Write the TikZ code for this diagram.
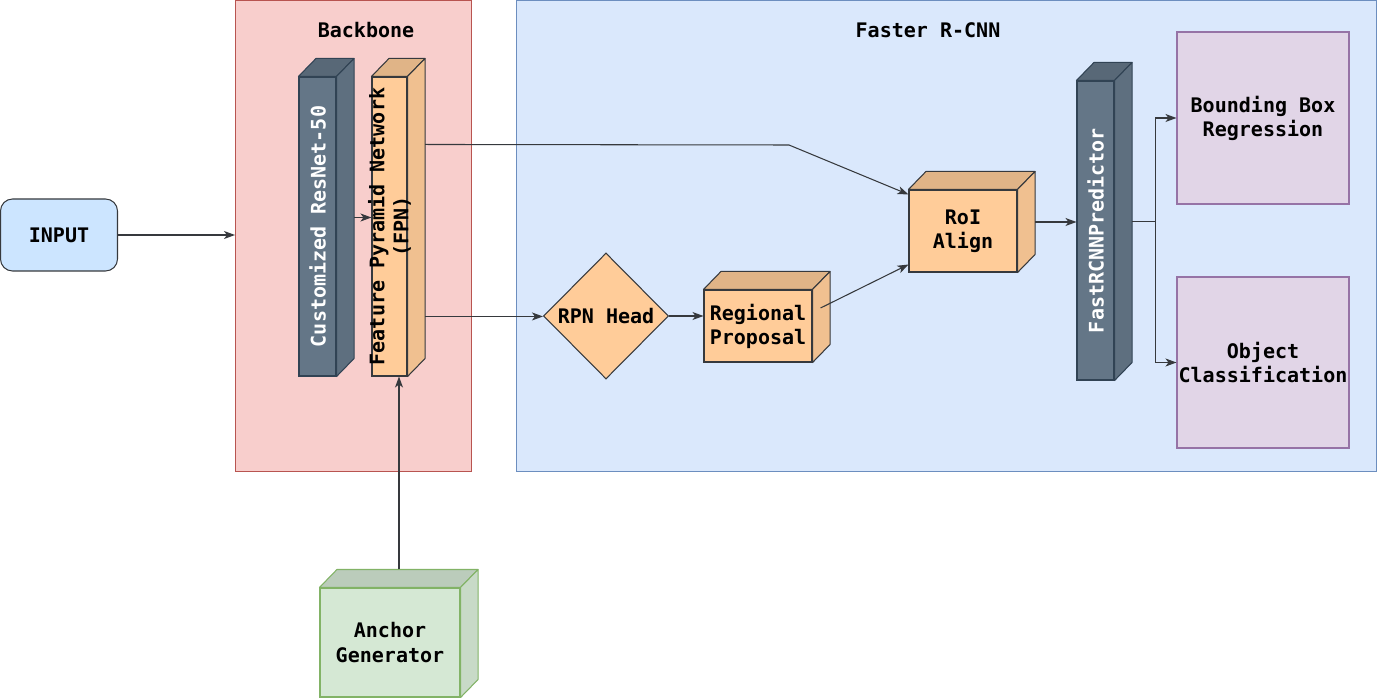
\documentclass[tikz,border=0pt]{standalone}
\usepackage{fontspec}
\setmonofont{DejaVu Sans Mono}
\usetikzlibrary{arrows.meta, shapes.geometric, calc}

\definecolor{backbonefill}{HTML}{F8CECC}
\definecolor{backbonedraw}{HTML}{B85450}
\definecolor{rcnnfill}{HTML}{DAE8FC}
\definecolor{rcnndraw}{HTML}{6C8EBF}
\definecolor{inputfill}{HTML}{CCE5FF}
\definecolor{darkline}{HTML}{36393D}
\definecolor{slatefill}{HTML}{647687}
\definecolor{slatedraw}{HTML}{314354}
\definecolor{orangefill}{HTML}{FFCC99}
\definecolor{greenfill}{HTML}{D5E8D4}
\definecolor{greendraw}{HTML}{82B366}
\definecolor{purplefill}{HTML}{E1D5E7}
\definecolor{purpledraw}{HTML}{9673A6}

\tikzset{
    my-text/.style={
        font=\fontsize{11.4}{13.7}\selectfont\ttfamily\bfseries, align=center
    },
    my-group/.style={
        rectangle, anchor=north west, line width=0.6pt, inner sep=0pt
    },
    my-cube/.style={
        rectangle, line width=0.6pt, inner sep=0pt, my-text
    },
    my-arrow/.style={
        draw=darkline, line width=0.6pt, -{Stealth[length=2.2mm, width=1.6mm, inset=0.6mm]}
    },
}

% back faces of a cube: node, fill colour, line colour
\newcommand{\cubefaces}[3]{
    \filldraw[fill=#2!88!black, draw=#3, line width=0.6pt, line join=round]
        (#1.north west) -- ($(#1.north west)+(.35,.36)$) -- ($(#1.north east)+(.35,.36)$) -- (#1.north east) -- cycle;
    \filldraw[fill=#2!94!black, draw=#3, line width=0.6pt, line join=round]
        (#1.north east) -- ($(#1.north east)+(.35,.36)$) -- ($(#1.south east)+(.35,.36)$) -- (#1.south east) -- cycle;
}

\begin{document}
\begin{tikzpicture}
        \useasboundingbox (0,0) rectangle (27.56,-13.98);

        % GROUPS ---------------------------------------------------------------------------------------
        \node[my-group, fill=backbonefill, draw=backbonedraw, minimum width=4.72cm, minimum height=9.42cm] (BACKBONE) at (4.70, 0) {};
        \node[my-group, fill=rcnnfill, draw=rcnndraw, minimum width=17.20cm, minimum height=9.42cm]       (RCNN)     at (10.32, 0) {};
        \node[my-text] (BACKBONELABEL) at (7.32, -.60)  {Backbone};
        \node[my-text] (RCNNLABEL)     at (18.56, -.60) {Faster R-CNN};

        % INPUT
        \node[my-cube, fill=inputfill, draw=darkline, rounded corners=.24cm, minimum width=2.34cm, minimum height=1.44cm] (INPUT) at (1.18, -4.70) {INPUT};

        % BACKBONE -------------------------------------------------------------------------------------
        \node[my-cube, fill=slatefill, draw=slatedraw, minimum width=.74cm, minimum height=5.98cm] (RESNET) at (6.35, -4.53) {};
        \cubefaces{RESNET}{slatefill}{slatedraw}
        \node[my-text, rotate=90, white] (RESNETTEXT) at (RESNET) {Customized ResNet-50};

        \node[my-cube, fill=orangefill, draw=darkline, minimum width=.70cm, minimum height=5.98cm] (FPN) at (7.79, -4.53) {};
        \cubefaces{FPN}{orangefill}{darkline}
        \node[my-text, rotate=90] (FPNTEXT) at (FPN) {Feature Pyramid Network\\(FPN)};

        % ANCHOR GENERATOR
        \node[my-cube, fill=greenfill, draw=greendraw, minimum width=2.80cm, minimum height=2.18cm] (ANCHOR) at (7.80, -12.85) {Anchor\\Generator};
        \cubefaces{ANCHOR}{greenfill}{greendraw}

        % FASTER R-CNN ---------------------------------------------------------------------------------
        \node[my-cube, diamond, fill=orangefill, draw=darkline, minimum width=2.50cm, minimum height=2.52cm] (RPN) at (12.12, -6.32) {RPN Head};

        \node[my-cube, fill=orangefill, draw=darkline, minimum width=2.16cm, minimum height=1.44cm] (PROPOSAL) at (15.16, -6.52) {Regional\\Proposal};
        \cubefaces{PROPOSAL}{orangefill}{darkline}

        \node[my-cube, fill=orangefill, draw=darkline, minimum width=2.16cm, minimum height=1.64cm] (ROI) at (19.26, -4.62) {RoI\\Align};
        \cubefaces{ROI}{orangefill}{darkline}

        \node[my-cube, fill=slatefill, draw=slatedraw, minimum width=.74cm, minimum height=5.98cm] (PREDICTOR) at (21.91, -4.61) {};
        \cubefaces{PREDICTOR}{slatefill}{slatedraw}
        \node[my-text, rotate=90, white] (PREDICTORTEXT) at (PREDICTOR) {FastRCNNPredictor};

        % OUTPUTS
        \node[my-cube, fill=purplefill, draw=purpledraw, minimum width=3.44cm, minimum height=3.44cm] (BBOX) at (25.26, -2.36) {Bounding Box\\Regression};
        \node[my-cube, fill=purplefill, draw=purpledraw, minimum width=3.44cm, minimum height=3.42cm] (CLASS) at (25.26, -7.25) {Object\\Classification};

        % CONNECTOR POINTS
        \coordinate (RESNETOUT)    at ($(RESNET.east)+(.35, .18)$);
        \coordinate (FPNOUT1)      at ($(FPN.north east)+(.35, -1.36)$);
        \coordinate (FPNBEND)      at (15.78, -2.90);
        \coordinate (FPNOUT2)      at ($(FPN.north east)+(.35, -4.80)$);
        \coordinate (ANCHOROUT)    at ($(ANCHOR.north)+(.18, .36)$);
        \coordinate (PROPOSALOUT)  at ($(PROPOSAL.east)+(.16, .36)$);
        \coordinate (ROIOUT)       at ($(ROI.east)+(.35, .18)$);
        \coordinate (PREDICTOROUT) at ($(PREDICTOR.east)+(.35, .18)$);

        % WIRES
        \draw[my-arrow] (INPUT.east) -- (INPUT.east -| BACKBONE.west);
        \draw[my-arrow] (RESNETOUT) -- (RESNETOUT -| FPN.west);
        \draw[my-arrow] (ANCHOROUT) -- (ANCHOROUT |- FPN.south);
        \draw[my-arrow] (FPNOUT1) -- (FPNBEND) -- ($(ROI.north west)+(0, -.10)$);
        \draw[my-arrow] (FPNOUT2) -- (FPNOUT2 -| RPN.west);
        \draw[my-arrow] (RPN.east) -- (RPN.east -| PROPOSAL.west);
        \draw[my-arrow] (PROPOSALOUT) -- ($(ROI.south west)+(0, .16)$);
        \draw[my-arrow] (ROIOUT) -- (ROIOUT -| PREDICTOR.west);
        \draw[my-arrow] (PREDICTOROUT) -- ++(.46, 0) |- (BBOX.west);
        \draw[my-arrow] (PREDICTOROUT) -- ++(.46, 0) |- (CLASS.west);

    \end{tikzpicture}
\end{document}
